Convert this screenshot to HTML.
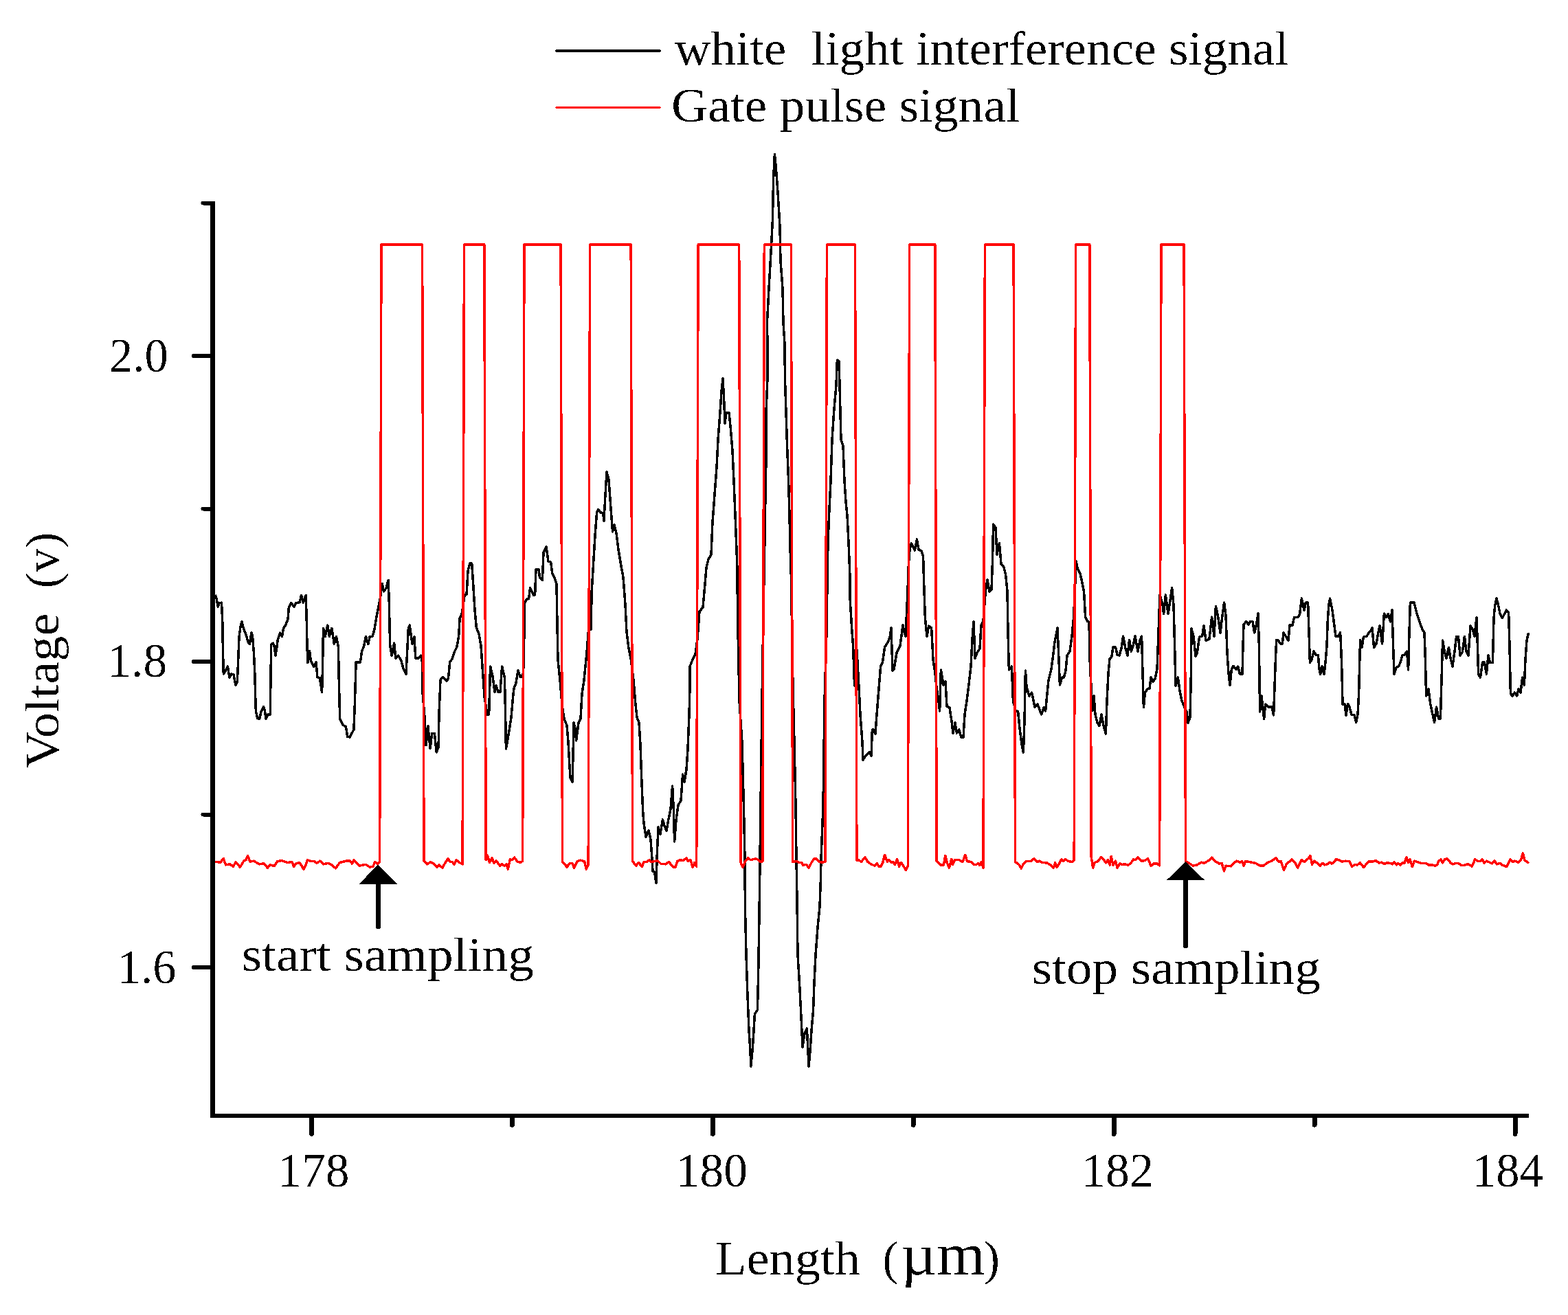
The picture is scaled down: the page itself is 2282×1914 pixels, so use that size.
<!DOCTYPE html>
<html lang="en"><head><meta charset="utf-8"><title>White light interference signal and gate pulse signal</title>
<style>
html,body{margin:0;padding:0;background:#fff;}
body{width:2282px;height:1914px;overflow:hidden;}
svg{display:block;}
text{white-space:pre;}
</style></head>
<body>
<svg shape-rendering="crispEdges" width="2282" height="1914" viewBox="0 0 2282 1914">
<rect width="2282" height="1914" fill="#fff"/>
<path d="M313.3,865.7 L315.2,871.4 L317.1,882.9 L319.0,878.1 L322.5,877.1 L323.8,905.7 L324.4,943.8 L325.3,981.0 L328.6,976.2 L331.4,969.9 L333.9,986.3 L337.1,981.0 L340.0,981.9 L342.9,997.1 L345.3,992.4 L346.7,961.0 L348.0,926.7 L349.9,913.3 L351.8,904.8 L354.3,914.3 L358.1,923.8 L361.0,934.3 L363.2,937.7 L366.1,920.6 L367.6,926.7 L369.5,951.4 L370.9,981.9 L371.8,1018.1 L372.4,1035.2 L374.7,1045.7 L377.7,1046.1 L380.0,1036.2 L383.4,1028.6 L385.3,1034.3 L387.0,1046.1 L389.9,1040.0 L393.3,1040.0 L393.9,991.4 L394.7,938.1 L397.1,936.2 L399.0,940.0 L401.0,954.3 L402.9,941.9 L404.4,930.5 L407.6,921.0 L410.5,926.3 L412.4,915.2 L416.2,908.6 L419.0,901.0 L420.4,883.8 L423.8,877.5 L428.0,883.2 L430.5,877.7 L436.2,876.6 L438.5,866.3 L441.3,877.1 L445.1,866.3 L446.1,896.2 L447.0,940.0 L447.8,964.8 L450.5,947.6 L452.4,961.9 L456.6,970.5 L460.0,963.4 L461.9,985.7 L465.3,986.7 L468.6,1007.6 L469.5,972.4 L470.5,914.3 L473.3,926.3 L476.8,910.1 L479.4,926.3 L482.9,914.3 L486.3,937.1 L489.5,926.7 L492.4,941.9 L493.3,991.4 L494.7,1046.7 L499.0,1055.2 L503.4,1057.7 L505.7,1072.4 L509.1,1073.0 L514.9,1061.9 L516.2,1029.5 L518.1,963.8 L524.4,963.8 L526.7,947.6 L529.5,941.0 L532.4,926.3 L535.8,937.7 L538.1,927.0 L541.9,926.1 L544.8,917.1 L547.6,900.0 L550.5,884.8 L553.3,871.4 L556.2,849.5 L558.5,861.0 L561.9,856.2 L565.1,844.4 L566.3,877.1 L567.6,938.1 L570.1,954.3 L573.7,936.2 L575.8,958.1 L579.6,954.3 L583.8,961.0 L586.7,972.4 L590.9,981.5 L592.4,953.3 L594.3,915.2 L596.2,910.1 L600.0,937.1 L602.9,926.7 L604.8,958.1 L609.5,958.1 L612.4,954.3 L614.3,962.9 L615.2,1010.5 L618.1,1044.8 L620.0,1084.8 L622.9,1056.8 L626.1,1089.5 L628.6,1067.6 L632.4,1067.6 L635.2,1094.9 L638.1,1087.6 L639.0,1039.0 L641.0,989.5 L644.8,985.3 L650.1,991.4 L652.4,987.6 L654.7,963.8 L658.1,959.0 L661.0,949.5 L664.8,941.9 L667.6,926.7 L669.1,900.0 L672.4,892.4 L676.2,865.7 L679.0,865.7 L681.0,831.4 L683.8,820.0 L686.7,820.0 L688.6,848.6 L690.9,886.7 L693.3,913.3 L697.1,922.9 L700.0,940.0 L705.0,1014.0 L709.0,1040.0 L711.6,1040.0 L712.4,1012.0 L713.6,970.0 L717.0,984.0 L720.0,1007.0 L722.0,998.0 L725.0,1007.4 L728.0,1007.4 L730.6,970.0 L734.4,986.0 L735.6,1040.0 L736.4,1090.0 L740.0,1070.0 L744.0,1044.0 L747.0,1010.0 L748.0,1002.0 L751.0,994.0 L754.0,975.6 L757.0,985.0 L759.0,985.0 L761.6,980.0 L763.0,920.0 L763.6,878.0 L766.0,872.4 L769.6,871.6 L771.6,855.6 L776.4,866.0 L778.6,866.0 L780.0,829.0 L784.0,828.6 L785.6,841.0 L789.4,844.4 L791.0,804.0 L795.0,795.6 L798.0,817.4 L801.6,818.0 L803.6,834.0 L807.0,841.0 L810.0,850.0 L811.0,910.0 L812.0,960.0 L815.0,990.0 L818.0,1026.0 L821.0,1046.0 L825.0,1056.0 L827.0,1080.0 L829.0,1116.0 L830.0,1132.0 L833.0,1138.0 L834.0,1100.0 L835.0,1052.0 L837.0,1060.0 L838.6,1078.0 L842.0,1052.0 L845.0,1046.0 L847.0,1010.0 L850.0,990.0 L853.0,960.0 L854.0,950.0 L857.0,910.0 L859.0,877.0 L860.0,916.0 L861.2,860.0 L863.0,830.0 L866.0,780.0 L868.6,746.0 L871.0,741.4 L874.0,746.0 L877.6,746.4 L879.0,758.0 L881.0,720.0 L883.0,687.0 L886.0,698.0 L889.0,740.0 L891.6,774.0 L894.0,763.6 L897.0,776.0 L900.0,800.0 L904.0,824.0 L907.0,840.0 L910.0,880.0 L912.0,920.0 L915.0,944.0 L918.0,958.0 L922.0,990.0 L925.0,1026.0 L927.0,1044.0 L930.0,1052.0 L932.0,1084.0 L934.0,1140.0 L935.6,1180.0 L937.0,1198.0 L940.0,1218.0 L944.0,1209.0 L947.0,1222.0 L949.0,1250.0 L950.0,1268.0 L952.4,1269.0 L955.0,1285.0 L956.4,1240.0 L958.0,1204.0 L961.0,1214.0 L964.4,1193.0 L967.0,1202.0 L970.0,1209.0 L973.0,1192.0 L976.0,1178.0 L978.6,1144.0 L980.4,1180.0 L981.6,1225.0 L984.0,1194.0 L987.0,1172.0 L991.0,1165.0 L993.6,1127.0 L996.0,1138.0 L999.0,1120.0 L1001.0,1090.0 L1003.0,1040.0 L1004.0,1000.0 L1004.0,970.0 L1008.0,960.0 L1012.0,952.0 L1015.0,930.0 L1018.0,890.0 L1023.0,884.0 L1026.0,850.0 L1028.0,826.0 L1031.0,814.0 L1035.0,807.6 L1037.0,760.0 L1040.0,720.0 L1043.0,680.0 L1045.0,640.0 L1048.0,600.0 L1050.0,570.0 L1052.0,551.0 L1053.6,580.0 L1055.0,616.0 L1057.0,601.0 L1061.0,600.4 L1063.0,620.0 L1066.0,656.0 L1068.0,700.0 L1070.0,750.0 L1072.0,800.0 L1073.2,836.0 L1073.2,860.0 L1074.4,940.0 L1076.0,1020.0 L1080.0,1080.0 L1082.4,1172.0 L1084.0,1250.0 L1084.4,1320.0 L1086.0,1390.0 L1088.0,1450.0 L1090.0,1500.0 L1092.0,1530.0 L1092.8,1552.0 L1095.0,1530.0 L1097.0,1500.0 L1098.4,1476.0 L1102.4,1470.0 L1103.6,1420.0 L1104.4,1370.0 L1105.6,1290.0 L1106.0,1250.0 L1107.0,1172.0 L1109.0,1020.0 L1111.0,890.0 L1112.4,820.0 L1113.0,780.0 L1114.0,720.0 L1115.0,670.0 L1115.0,600.0 L1117.0,550.0 L1117.0,500.0 L1116.4,470.0 L1119.0,420.0 L1122.4,360.0 L1124.4,320.0 L1125.6,260.0 L1127.4,224.4 L1129.0,240.0 L1132.0,280.0 L1135.0,330.0 L1136.0,380.0 L1139.0,420.0 L1140.0,470.0 L1142.0,500.0 L1142.4,550.0 L1144.0,600.0 L1145.6,650.0 L1147.6,700.0 L1149.0,750.0 L1150.0,800.0 L1151.0,820.0 L1154.0,1000.0 L1156.0,1080.0 L1158.0,1172.0 L1159.0,1250.0 L1160.0,1310.0 L1161.0,1390.0 L1164.0,1440.0 L1166.0,1480.0 L1168.0,1524.0 L1171.0,1504.0 L1174.4,1497.0 L1176.0,1530.0 L1177.0,1552.0 L1179.0,1530.0 L1181.0,1500.0 L1183.6,1470.0 L1185.0,1430.0 L1187.0,1390.0 L1190.0,1350.0 L1193.0,1320.0 L1194.4,1280.0 L1195.0,1250.0 L1198.0,1172.0 L1200.0,1020.0 L1203.0,920.0 L1204.4,820.0 L1205.0,790.0 L1207.0,740.0 L1209.0,700.0 L1211.0,640.0 L1213.6,600.0 L1217.0,560.0 L1218.4,524.0 L1221.0,526.0 L1222.0,560.0 L1223.0,600.0 L1224.0,640.0 L1227.0,649.0 L1229.0,700.0 L1231.0,730.0 L1233.0,750.0 L1235.0,790.0 L1237.0,840.0 L1237.0,870.0 L1240.0,920.0 L1241.6,940.0 L1243.6,998.0 L1247.0,946.0 L1250.0,1000.0 L1252.0,1040.0 L1255.0,1080.0 L1256.0,1106.0 L1260.0,1100.0 L1265.0,1095.0 L1268.0,1100.0 L1269.4,1062.0 L1271.0,1062.0 L1274.0,1068.0 L1276.0,1040.0 L1278.4,1010.0 L1281.6,970.0 L1284.4,964.0 L1287.6,942.0 L1292.0,935.0 L1295.0,928.0 L1297.0,914.0 L1299.0,976.0 L1301.0,974.0 L1305.0,950.0 L1310.0,940.0 L1314.0,910.0 L1316.0,920.0 L1318.0,926.0 L1319.6,890.0 L1321.0,860.0 L1322.4,820.0 L1324.0,800.0 L1326.4,791.0 L1331.4,801.0 L1334.4,785.0 L1337.0,800.0 L1341.0,802.0 L1343.6,810.0 L1344.4,840.0 L1345.0,860.0 L1346.4,900.0 L1349.0,926.0 L1351.6,911.0 L1355.6,914.0 L1357.0,940.0 L1358.0,960.0 L1361.0,980.0 L1363.0,1000.0 L1366.0,1020.0 L1367.6,1035.0 L1369.4,975.0 L1373.0,997.0 L1376.0,992.0 L1378.0,1028.0 L1382.0,1030.0 L1385.0,1050.0 L1387.0,1067.0 L1390.0,1052.0 L1392.4,1067.0 L1395.6,1062.0 L1399.0,1073.0 L1402.0,1073.0 L1404.0,1040.0 L1407.0,1020.0 L1410.0,996.0 L1413.0,970.0 L1415.0,930.0 L1417.0,905.0 L1419.0,958.0 L1422.0,950.0 L1426.0,944.0 L1428.0,910.0 L1431.0,904.0 L1432.0,890.0 L1434.4,860.0 L1437.0,844.0 L1440.0,861.0 L1443.0,858.0 L1444.4,820.0 L1445.6,763.0 L1449.0,768.0 L1451.0,807.0 L1454.4,790.4 L1457.0,821.0 L1460.4,824.0 L1463.6,836.0 L1466.0,860.0 L1467.0,920.0 L1468.4,975.0 L1472.4,970.0 L1474.4,1020.0 L1478.0,1034.0 L1481.6,1035.6 L1484.0,1060.0 L1487.0,1084.0 L1489.4,1095.0 L1491.0,1050.0 L1492.4,976.0 L1494.0,1000.0 L1498.0,1013.0 L1501.6,1008.0 L1506.0,1029.0 L1510.0,1025.0 L1515.6,1040.0 L1519.0,1030.0 L1521.6,1035.0 L1524.0,1010.0 L1526.0,990.0 L1530.0,974.0 L1532.4,956.0 L1535.0,934.0 L1539.0,914.0 L1541.0,960.0 L1542.4,997.0 L1545.6,986.0 L1548.4,986.0 L1551.0,976.0 L1553.0,954.0 L1557.0,948.0 L1560.0,926.0 L1562.4,900.0 L1564.4,860.0 L1566.0,817.0 L1568.4,828.0 L1572.0,835.0 L1575.0,848.0 L1577.6,862.0 L1579.6,898.0 L1582.4,904.0 L1585.0,906.0 L1586.4,970.0 L1590.0,1034.0 L1592.0,1012.4 L1594.0,1040.0 L1597.0,1052.0 L1600.0,1056.6 L1603.0,1040.0 L1606.0,1056.0 L1609.4,1068.0 L1611.0,1020.0 L1613.0,980.0 L1615.0,959.0 L1617.6,957.0 L1620.0,942.0 L1623.6,942.0 L1626.0,953.0 L1629.0,954.0 L1632.0,944.0 L1634.6,926.0 L1638.0,944.0 L1641.0,954.0 L1643.6,931.6 L1646.4,948.0 L1649.0,940.0 L1652.0,926.0 L1656.0,948.0 L1659.0,932.0 L1661.6,926.0 L1663.0,980.0 L1664.4,1029.6 L1666.4,1008.0 L1670.0,1003.0 L1673.0,1002.0 L1675.0,986.0 L1678.0,992.0 L1681.0,988.0 L1684.0,974.0 L1686.0,920.0 L1688.0,866.0 L1692.0,880.0 L1693.6,893.6 L1696.4,866.0 L1700.0,893.6 L1703.0,874.0 L1705.6,855.6 L1708.0,880.0 L1709.6,940.0 L1711.0,998.0 L1714.4,986.0 L1717.0,1006.0 L1720.0,1020.0 L1724.0,1030.0 L1727.0,1036.0 L1729.0,1052.0 L1732.0,1044.0 L1733.4,980.0 L1734.0,915.0 L1737.0,926.0 L1740.0,955.0 L1742.4,950.0 L1745.6,927.0 L1749.6,926.0 L1752.0,910.4 L1755.0,932.4 L1760.0,930.0 L1763.6,898.0 L1767.0,926.0 L1769.4,882.4 L1772.4,896.0 L1776.0,921.0 L1779.0,896.0 L1781.6,877.0 L1784.0,896.0 L1786.0,950.0 L1788.0,980.0 L1790.0,997.0 L1792.4,974.0 L1795.0,969.4 L1799.0,974.0 L1801.6,970.0 L1804.4,981.0 L1808.0,981.0 L1809.0,940.0 L1810.0,909.0 L1813.6,904.6 L1817.0,909.0 L1820.0,904.4 L1823.0,904.4 L1825.6,921.0 L1828.0,912.0 L1831.0,893.0 L1831.0,893.0 L1832.4,940.0 L1833.6,1036.0 L1836.0,1013.0 L1839.6,1046.4 L1841.6,1025.0 L1846.0,1029.0 L1851.0,1029.0 L1853.6,1041.0 L1855.0,1000.0 L1856.4,960.0 L1857.6,931.6 L1860.0,931.6 L1863.6,937.0 L1866.4,937.0 L1868.0,921.0 L1872.0,927.0 L1875.0,932.4 L1877.0,910.0 L1881.0,910.0 L1883.6,898.4 L1889.0,898.4 L1891.6,894.0 L1894.4,871.0 L1898.0,888.0 L1900.4,877.0 L1903.6,877.0 L1905.0,920.0 L1906.4,964.4 L1909.0,960.0 L1912.0,948.0 L1915.6,953.6 L1918.4,953.6 L1920.0,974.0 L1921.6,981.6 L1924.0,970.0 L1927.0,981.6 L1929.0,964.0 L1931.0,940.0 L1932.4,900.0 L1934.0,880.0 L1935.6,871.0 L1939.0,888.0 L1941.6,908.0 L1944.0,926.0 L1948.0,926.0 L1950.6,920.4 L1952.0,950.0 L1953.0,980.0 L1954.0,1025.0 L1957.0,1025.0 L1959.0,1041.0 L1961.6,1024.4 L1964.0,1029.0 L1967.0,1040.0 L1971.0,1041.0 L1973.6,1051.6 L1976.0,1040.0 L1977.6,1010.0 L1978.4,976.0 L1979.6,931.6 L1982.0,942.4 L1984.4,927.0 L1989.0,926.4 L1991.6,921.6 L1994.4,919.0 L1997.0,914.0 L1999.6,942.4 L2003.0,937.0 L2005.6,922.0 L2008.0,910.4 L2011.6,937.0 L2013.0,916.0 L2014.4,893.0 L2017.6,898.4 L2020.4,893.6 L2023.6,905.0 L2026.0,887.6 L2027.6,940.0 L2029.0,981.0 L2032.0,972.0 L2036.0,969.0 L2038.4,963.0 L2041.0,953.6 L2044.0,953.0 L2047.6,948.0 L2049.6,975.0 L2051.0,920.0 L2052.4,877.0 L2058.0,877.0 L2062.0,893.0 L2066.0,905.0 L2070.0,916.0 L2073.0,921.0 L2074.4,960.0 L2075.6,1013.0 L2079.0,1003.0 L2081.6,1024.0 L2085.0,1040.0 L2087.6,1051.6 L2090.6,1029.0 L2093.6,1046.0 L2096.4,1046.0 L2098.0,990.0 L2099.6,932.0 L2102.0,947.0 L2105.0,958.0 L2108.4,942.4 L2111.0,958.0 L2114.0,970.0 L2117.0,948.0 L2119.6,926.4 L2122.4,926.4 L2125.0,954.0 L2128.4,949.0 L2131.4,926.4 L2134.0,948.0 L2137.0,954.0 L2140.0,911.0 L2143.0,916.0 L2146.0,926.0 L2149.0,898.4 L2150.4,940.0 L2151.6,981.6 L2154.4,986.0 L2157.6,964.0 L2160.4,964.0 L2163.4,981.0 L2166.0,953.6 L2168.4,964.4 L2172.4,964.4 L2174.0,900.0 L2175.6,882.0 L2178.0,871.0 L2180.4,880.0 L2183.0,893.0 L2186.4,899.6 L2192.4,888.0 L2195.6,892.0 L2197.0,940.0 L2198.4,1009.0 L2201.0,1013.6 L2204.4,1008.0 L2207.6,1013.0 L2210.0,1003.0 L2213.0,1008.0 L2215.6,986.0 L2218.4,997.0 L2220.0,960.0 L2222.0,932.0 L2224.6,921.0" fill="none" stroke="#000" stroke-width="3.5" stroke-linejoin="round"/>
<path d="M307.6,1254.0 L321.0,1255.1 L325.1,1249.4 L328.6,1258.9 L334.3,1257.8 L339.4,1261.2 L343.2,1255.1 L349.5,1262.1 L355.2,1252.6 L358.1,1251.7 L360.6,1245.6 L363.8,1254.0 L369.5,1253.2 L377.1,1257.8 L383.8,1257.0 L389.5,1263.1 L393.3,1258.9 L399.0,1260.8 L403.8,1253.6 L409.5,1252.6 L418.1,1255.5 L424.8,1254.5 L427.6,1261.2 L431.4,1256.4 L436.2,1255.9 L441.9,1265.0 L445.7,1257.4 L447.6,1251.7 L452.4,1253.6 L457.1,1253.6 L461.0,1256.4 L465.7,1253.2 L470.5,1257.8 L478.1,1256.4 L483.8,1259.7 L488.6,1264.0 L494.3,1255.5 L503.8,1253.2 L509.5,1253.2 L512.4,1257.0 L514.9,1252.0 L522.9,1260.2 L532.4,1258.3 L538.1,1262.1 L542.9,1261.2 L545.7,1254.5 L549.5,1257.4 L552.6,1254.0 L555.0,356.0 L614.6,356.0 L617.0,1253.2 L621.9,1257.8 L626.7,1254.5 L631.4,1257.4 L635.6,1262.1 L639.0,1258.9 L643.8,1263.1 L647.6,1256.4 L652.0,1249.8 L655.2,1254.5 L658.1,1254.5 L661.0,1257.8 L664.2,1251.7 L668.6,1255.5 L673.1,1257.8 L675.5,356.0 L704.8,356.0 L707.2,1251.7 L709.5,1245.0 L712.4,1255.5 L716.2,1248.8 L719.0,1256.4 L721.9,1252.6 L727.6,1260.2 L730.5,1257.8 L734.3,1260.2 L737.1,1257.8 L739.4,1265.0 L742.3,1250.7 L745.7,1251.7 L748.6,1247.9 L753.3,1254.5 L758.1,1255.1 L760.6,1253.2 L763.0,356.0 L816.1,356.0 L818.5,1254.5 L821.9,1257.4 L824.8,1262.1 L829.5,1256.4 L833.3,1257.0 L835.6,1263.1 L840.0,1253.6 L844.8,1252.2 L850.5,1253.6 L853.3,1265.0 L856.2,1258.9 L858.6,356.0 L918.2,356.0 L920.6,1253.6 L925.7,1260.2 L929.5,1255.5 L934.3,1261.6 L937.1,1254.5 L941.9,1254.5 L944.8,1251.7 L947.6,1254.5 L953.3,1253.6 L957.1,1252.6 L961.9,1257.4 L968.6,1257.8 L973.3,1254.5 L980.0,1262.1 L982.9,1262.1 L985.7,1253.6 L989.5,1251.7 L994.3,1252.6 L999.0,1248.8 L1001.0,1253.6 L1004.8,1251.7 L1008.2,1262.1 L1010.9,1255.5 L1013.7,1261.2 L1016.1,356.0 L1075.7,356.0 L1078.1,1255.5 L1081.0,1262.1 L1084.8,1253.6 L1088.6,1248.8 L1092.4,1251.7 L1100.0,1249.8 L1103.8,1251.7 L1106.7,1254.5 L1109.9,1253.6 L1112.3,356.0 L1151.3,356.0 L1153.7,1254.5 L1159.0,1253.6 L1162.9,1255.5 L1166.7,1255.5 L1168.6,1259.3 L1173.3,1258.3 L1177.1,1263.1 L1181.0,1255.5 L1184.8,1249.8 L1187.6,1249.8 L1191.4,1253.6 L1195.2,1255.1 L1201.0,1254.5 L1203.4,356.0 L1244.5,356.0 L1246.9,1252.2 L1250.5,1252.2 L1253.3,1254.5 L1259.0,1247.9 L1262.9,1254.5 L1267.6,1257.8 L1273.3,1260.2 L1276.2,1256.4 L1279.0,1261.2 L1281.9,1261.2 L1284.8,1255.5 L1287.6,1244.4 L1291.4,1254.5 L1293.3,1251.7 L1297.1,1255.5 L1300.0,1254.5 L1302.3,1258.3 L1305.7,1250.7 L1308.6,1261.2 L1311.4,1255.5 L1314.3,1259.3 L1318.1,1266.5 L1321.3,1260.2 L1323.7,356.0 L1360.8,356.0 L1363.2,1253.6 L1369.5,1259.3 L1373.3,1258.9 L1375.8,1245.6 L1378.5,1256.4 L1381.5,1263.1 L1384.8,1250.7 L1386.7,1258.3 L1389.5,1251.7 L1395.2,1251.3 L1401.0,1254.5 L1404.8,1244.4 L1407.6,1253.6 L1413.3,1254.5 L1417.1,1258.3 L1421.0,1258.3 L1423.8,1256.4 L1425.7,1259.3 L1428.0,1254.5 L1431.0,1263.1 L1433.4,356.0 L1475.1,356.0 L1477.5,1254.5 L1482.9,1258.3 L1486.3,1264.0 L1489.5,1257.4 L1493.3,1253.6 L1500.0,1253.6 L1504.8,1249.8 L1509.5,1254.5 L1512.4,1253.2 L1517.1,1255.5 L1523.8,1255.9 L1530.5,1260.2 L1533.3,1263.1 L1535.6,1255.9 L1538.1,1262.1 L1541.5,1257.4 L1544.8,1250.7 L1547.6,1253.6 L1550.5,1250.7 L1555.2,1253.6 L1560.0,1254.5 L1563.2,1252.0 L1565.6,356.0 L1585.8,356.0 L1588.2,1247.9 L1590.7,1263.1 L1593.3,1255.5 L1598.1,1253.6 L1602.5,1247.5 L1606.7,1251.7 L1609.5,1255.9 L1612.4,1251.7 L1615.2,1258.9 L1617.1,1246.3 L1620.0,1259.3 L1623.4,1253.2 L1626.1,1263.1 L1629.5,1257.0 L1633.3,1258.3 L1637.1,1257.8 L1641.9,1259.3 L1645.7,1256.4 L1649.5,1250.7 L1652.4,1251.7 L1656.2,1247.9 L1661.0,1253.2 L1665.7,1252.6 L1670.5,1249.8 L1675.2,1260.2 L1679.0,1257.0 L1683.8,1257.0 L1687.6,1259.7 L1690.0,356.0 L1723.1,356.0 L1725.5,1253.6 L1730.5,1256.4 L1736.2,1260.2 L1741.9,1258.9 L1748.6,1255.1 L1752.4,1256.4 L1759.0,1252.6 L1763.8,1248.2 L1768.6,1253.6 L1774.3,1257.0 L1778.1,1256.4 L1781.5,1267.9 L1783.8,1260.2 L1791.4,1260.8 L1796.2,1255.5 L1800.0,1253.2 L1804.8,1255.5 L1807.6,1253.6 L1810.1,1260.2 L1812.4,1253.6 L1818.1,1254.5 L1827.6,1256.4 L1833.3,1259.9 L1839.0,1259.9 L1844.8,1255.5 L1850.5,1253.2 L1857.1,1248.8 L1861.0,1254.5 L1864.2,1253.6 L1868.6,1266.5 L1872.4,1257.4 L1877.1,1253.6 L1880.0,1250.7 L1885.4,1256.4 L1888.7,1263.1 L1891.1,1257.4 L1894.4,1251.7 L1898.2,1254.5 L1901.0,1251.7 L1903.9,1249.8 L1906.8,1245.6 L1909.6,1258.3 L1912.5,1253.2 L1917.2,1256.4 L1921.4,1260.2 L1924.9,1256.4 L1927.7,1258.9 L1931.5,1257.8 L1935.3,1255.1 L1938.2,1257.0 L1941.0,1255.5 L1944.5,1250.7 L1948.7,1252.0 L1953.4,1254.0 L1958.2,1253.2 L1963.9,1253.6 L1967.7,1261.6 L1971.5,1258.3 L1975.3,1258.9 L1979.5,1255.9 L1984.9,1262.7 L1988.3,1257.4 L1991.5,1254.0 L1998.2,1254.0 L2002.4,1252.6 L2006.8,1255.9 L2010.6,1255.1 L2015.0,1257.8 L2017.6,1255.9 L2023.9,1256.4 L2026.8,1257.8 L2029.0,1255.1 L2032.5,1258.9 L2034.8,1256.4 L2037.8,1258.9 L2041.0,1255.5 L2043.9,1256.4 L2046.8,1247.9 L2049.6,1255.5 L2052.1,1250.7 L2055.3,1261.6 L2058.2,1253.2 L2063.0,1254.5 L2067.7,1256.4 L2075.3,1256.4 L2079.1,1258.9 L2084.9,1258.9 L2088.7,1260.2 L2091.5,1258.9 L2093.8,1253.6 L2096.9,1250.7 L2099.5,1255.9 L2102.6,1250.7 L2105.8,1249.8 L2108.7,1252.6 L2111.5,1256.4 L2114.4,1257.8 L2118.2,1256.4 L2122.4,1256.4 L2126.8,1259.3 L2131.5,1259.3 L2135.3,1257.8 L2138.2,1258.3 L2142.0,1261.2 L2144.5,1256.4 L2146.4,1250.7 L2150.6,1253.2 L2154.4,1253.6 L2157.2,1250.7 L2160.1,1255.9 L2163.5,1253.2 L2167.7,1255.1 L2171.5,1257.0 L2175.0,1253.2 L2178.8,1257.8 L2183.0,1256.4 L2186.8,1259.3 L2192.5,1261.6 L2195.3,1256.4 L2198.2,1250.7 L2201.0,1254.5 L2204.9,1253.2 L2209.6,1255.1 L2213.4,1251.7 L2216.3,1241.8 L2219.1,1252.6 L2222.0,1253.6 L2224.9,1256.4" fill="none" stroke="#f00" stroke-width="3.5" stroke-linejoin="round"/>
<path d="M309.5,292.5 V1627" fill="none" stroke="#000" stroke-width="7"/>
<path d="M306.0,1624 H2225" fill="none" stroke="#000" stroke-width="6"/>
<path d="M453.4,1625 V1650.3 M1037.3,1625 V1650.3 M1621.1,1625 V1650.3 M2205.0,1625 V1650.3 M745.3,1625 V1637.2 M1329.2,1625 V1637.2 M1913.1,1625 V1637.2" fill="none" stroke="#000" stroke-width="7" stroke-linecap="round"/>
<path d="M309.5,518.0 H282 M309.5,963.0 H282 M309.5,1408.0 H282 M309.5,295.5 H295.5 M309.5,740.5 H295.5 M309.5,1185.5 H295.5" fill="none" stroke="#000" stroke-width="6" stroke-linecap="round"/>
<path d="M809.8,74 H960.2" stroke="#000" stroke-width="3.8" stroke-linecap="round"/>
<path d="M809.8,156.5 H960.2" stroke="#f00" stroke-width="3.2" stroke-linecap="round"/>
<path d="M550.3,1258.3 L578.3,1287 H522.3 Z" fill="#000"/><path d="M550.3,1287 V1348.9" stroke="#000" stroke-width="7" stroke-linecap="round"/>
<path d="M1725.5,1254.3 L1753.5,1281.4 H1697.5 Z" fill="#000"/><path d="M1725.5,1281.4 V1377.0" stroke="#000" stroke-width="7" stroke-linecap="round"/>
<defs><filter id="th" filterUnits="userSpaceOnUse" x="0" y="0" width="2282" height="1914" color-interpolation-filters="sRGB"><feComponentTransfer><feFuncA type="discrete" tableValues="0 0 0 1 1"/></feComponentTransfer></filter></defs>
<g font-family="'Liberation Serif', 'DejaVu Serif', serif" fill="#000" filter="url(#th)">
<text id="l1" x="981.70" y="94.3" font-size="69" textLength="894.00" lengthAdjust="spacingAndGlyphs" xml:space="preserve">white  light interference signal</text>
<text id="l2" x="976.99" y="176.6" font-size="69" textLength="507.62" lengthAdjust="spacingAndGlyphs" xml:space="preserve">Gate pulse signal</text>
<text id="t20" x="159.03" y="541" font-size="69" textLength="85.82" lengthAdjust="spacingAndGlyphs" xml:space="preserve">2.0</text>
<text id="t18" x="156.24" y="984.7" font-size="69" textLength="86.91" lengthAdjust="spacingAndGlyphs" xml:space="preserve">1.8</text>
<text id="t16" x="171.06" y="1431" font-size="69" textLength="85.22" lengthAdjust="spacingAndGlyphs" xml:space="preserve">1.6</text>
<text id="t178" x="404.27" y="1727" font-size="69" textLength="104.09" lengthAdjust="spacingAndGlyphs" xml:space="preserve">178</text>
<text id="t180" x="983.87" y="1727" font-size="69" textLength="104.19" lengthAdjust="spacingAndGlyphs" xml:space="preserve">180</text>
<text id="t182" x="1574.14" y="1727" font-size="69" textLength="104.68" lengthAdjust="spacingAndGlyphs" xml:space="preserve">182</text>
<text id="t184" x="2142.96" y="1727" font-size="69" textLength="102.76" lengthAdjust="spacingAndGlyphs" xml:space="preserve">184</text>
<text id="a1" x="351.68" y="1413" font-size="69" textLength="425.33" lengthAdjust="spacingAndGlyphs" xml:space="preserve">start sampling</text>
<text id="a2" x="1501.68" y="1432" font-size="69" textLength="420.13" lengthAdjust="spacingAndGlyphs" xml:space="preserve">stop sampling</text>
<text id="xl" y="1855.2" font-size="69" xml:space="preserve"><tspan x="1041" textLength="211" lengthAdjust="spacingAndGlyphs">Length</tspan><tspan>  </tspan><tspan x="1284.5">(</tspan><tspan x="1311" font-size="86" textLength="123" lengthAdjust="spacingAndGlyphs">µm</tspan><tspan x="1432">)</tspan></text>
<text id="yl" transform="translate(85.2,1118.5) rotate(-90)" font-size="69" xml:space="preserve"><tspan x="0" textLength="226" lengthAdjust="spacingAndGlyphs">Voltage</tspan><tspan> </tspan><tspan x="262.3" textLength="81.5" lengthAdjust="spacingAndGlyphs">(v)</tspan></text>
</g>
</svg>
</body></html>
